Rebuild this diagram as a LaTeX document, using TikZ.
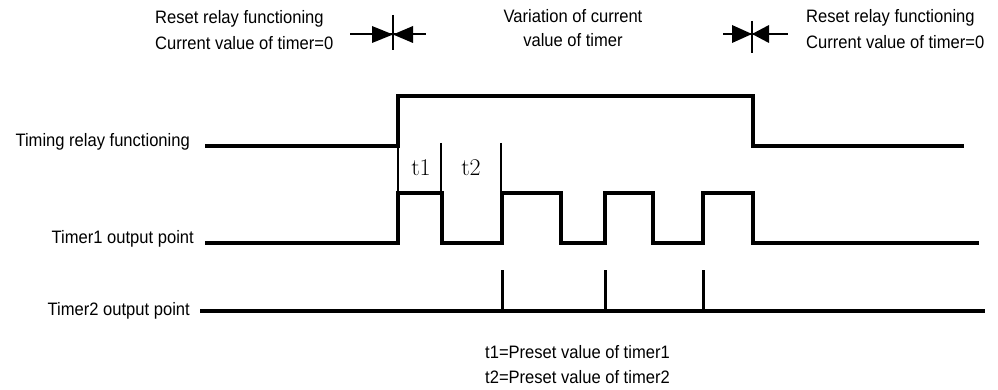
\documentclass[tikz,border=0pt]{standalone}
\usepackage{fontspec}
\usepackage{tikz}
\newfontfamily\narrowsf{Liberation Sans}[FakeStretch=0.92]

\tikzset{
  lbl/.style={font=\narrowsf\fontsize{18}{21}\selectfont,inner sep=0pt},
  wave/.style={line width=3.2pt,line join=miter,line cap=rect},
  tmark/.style={line width=1.4pt},
  spike/.style={line width=3pt},
  stopper/.style={line width=1.6pt},
}

\begin{document}
\begin{tikzpicture}[x=1pt,y=-1pt]
  \useasboundingbox (0,0) rectangle (998,390);
  % header texts
  \node[lbl,anchor=west,align=left] (resetA) at (155,30)
    {Reset relay functioning\\[5pt]Current value of timer=0};
  \node[lbl,align=center] (vary) at (573,28)
    {Variation of current\\[3pt]value of timer};
  \node[lbl,anchor=west,align=left] (resetB) at (806,29)
    {Reset relay functioning\\[5pt]Current value of timer=0};
  % reset symbols
  \draw[stopper] (350,34) -- (426,34);
  \draw[stopper] (393,15) -- (393,50);
  \fill (372,26) -- (393,34.5) -- (372,43) -- cycle;
  \fill (413,26) -- (393,34.5) -- (413,43) -- cycle;
  \draw[stopper] (723,34) -- (788,34);
  \draw[stopper] (752,21) -- (752,53);
  \fill (732,25) -- (752,34) -- (732,43) -- cycle;
  \fill (769,25) -- (752,34) -- (769,43) -- cycle;
  % signal names
  \node[lbl,anchor=east] (relay) at (190,142) {Timing relay functioning};
  \node[lbl,anchor=east] (tmr1) at (194,239) {Timer1 output point};
  \node[lbl,anchor=east] (tmr2) at (190,311) {Timer2 output point};
  % timing relay
  \draw[wave] (207,146) -- (398,146) -- (398,96) -- (753,96) -- (753,146) -- (962,146);
  % timer1
  \draw[wave] (207,243) -- (398,243) -- (398,193) -- (442,193) -- (442,243)
    -- (502,243) -- (502,193) -- (561,193) -- (561,243)
    -- (605,243) -- (605,193) -- (653,193) -- (653,243)
    -- (703,243) -- (703,193) -- (753,193) -- (753,243) -- (977,243);
  % t1 / t2 marks
  \draw[tmark] (398,146) -- (398,193);
  \draw[tmark] (441,143) -- (441,193);
  \draw[tmark] (501,143) -- (501,193);
  \node[font=\fontsize{24}{28}\selectfont] (tA) at (421,168) {t1};
  \node[font=\fontsize{24}{28}\selectfont] (tB) at (471,168) {t2};
  % timer2
  \draw[wave] (202,311) -- (983,311);
  \foreach \x in {502,605,703}
    {\draw[spike] (\x,311) -- (\x,270);}
  % notes
  \node[lbl,anchor=west] (noteA) at (485,352) {t1=Preset value of timer1};
  \node[lbl,anchor=west] (noteB) at (485,377) {t2=Preset value of timer2};
\end{tikzpicture}
\end{document}
